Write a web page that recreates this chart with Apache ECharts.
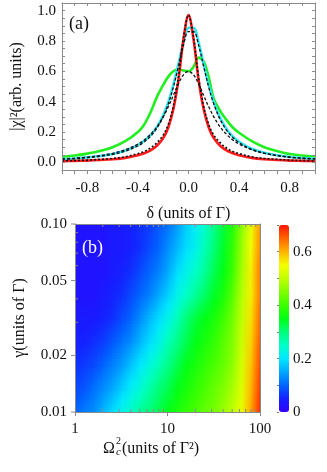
<!DOCTYPE html>
<html><head><meta charset="utf-8">
<script src="https://cdn.jsdelivr.net/npm/echarts@6/dist/echarts.min.js"></script>
<style>html,body{margin:0;padding:0;background:#fff}#c{width:327px;height:472px}</style>
</head><body><div id="c"></div>
<script>
// ---------- panel (a) data ----------
const delta = [-1,-0.9,-0.8,-0.7,-0.6,-0.5,-0.4,-0.35,-0.3,-0.25,-0.2,-0.16,-0.12,-0.08,-0.04,0,0.04,0.08,0.12,0.16,0.2,0.25,0.3,0.35,0.4,0.5,0.6,0.7,0.8,0.9,1];
const redCurve   = [0.008,0.010,0.012,0.016,0.021,0.030,0.047,0.060,0.080,0.110,0.160,0.230,0.350,0.540,0.810,0.970,0.810,0.540,0.350,0.230,0.160,0.110,0.080,0.060,0.047,0.030,0.021,0.016,0.012,0.010,0.008];
const cyanCurve  = [0.022,0.026,0.033,0.042,0.056,0.078,0.114,0.142,0.180,0.234,0.311,0.397,0.510,0.647,0.789,0.886,0.886,0.789,0.647,0.510,0.397,0.293,0.222,0.171,0.136,0.090,0.064,0.047,0.036,0.029,0.023];
const greenCurve = [0.037,0.045,0.058,0.075,0.100,0.140,0.200,0.250,0.330,0.430,0.510,0.565,0.600,0.615,0.605,0.600,0.630,0.690,0.665,0.560,0.420,0.340,0.280,0.230,0.195,0.140,0.100,0.075,0.055,0.045,0.037];
const dotRed     = [0.010,0.012,0.015,0.020,0.026,0.037,0.058,0.072,0.095,0.130,0.180,0.250,0.370,0.560,0.820,0.970,0.820,0.560,0.370,0.250,0.180,0.130,0.095,0.072,0.058,0.037,0.026,0.020,0.015,0.012,0.010];
const dashCyan   = [0.020,0.025,0.031,0.040,0.053,0.074,0.108,0.135,0.172,0.225,0.300,0.385,0.495,0.632,0.772,0.862,0.862,0.772,0.632,0.495,0.385,0.283,0.213,0.164,0.130,0.086,0.061,0.045,0.034,0.027,0.022];
const dashLow    = [0.023,0.028,0.035,0.045,0.060,0.083,0.120,0.148,0.185,0.234,0.300,0.366,0.441,0.517,0.577,0.600,0.577,0.517,0.441,0.366,0.300,0.234,0.185,0.148,0.120,0.083,0.060,0.045,0.035,0.028,0.023];

// ---------- panel (b) data ----------
const omegaSq = [1,1.26,1.58,2,2.51,3.16,3.98,5.01,6.31,7.94,10,12.6,15.8,20,25.1,31.6,39.8,50.1,63.1,79.4,100];
const gammaVals = [0.01,0.0133,0.0178,0.0237,0.0316,0.0422,0.0562,0.075,0.1];
const row0 = [0.10,0.12,0.13,0.16,0.19,0.22,0.25,0.28,0.30,0.32,0.35,0.37,0.39,0.41,0.43,0.44,0.47,0.50,0.54,0.61,0.69];
const row1 = [0.08,0.09,0.11,0.13,0.15,0.18,0.21,0.24,0.27,0.30,0.32,0.35,0.37,0.39,0.41,0.43,0.45,0.48,0.53,0.60,0.68];
const row2 = [0.06,0.07,0.08,0.10,0.12,0.14,0.17,0.20,0.23,0.26,0.29,0.32,0.35,0.37,0.39,0.41,0.43,0.46,0.52,0.59,0.67];
const row3 = [0.05,0.05,0.06,0.07,0.09,0.11,0.13,0.16,0.19,0.22,0.26,0.29,0.32,0.35,0.37,0.39,0.42,0.45,0.51,0.58,0.66];
const row4 = [0.04,0.04,0.04,0.05,0.06,0.08,0.10,0.13,0.16,0.19,0.22,0.26,0.30,0.33,0.35,0.37,0.40,0.44,0.50,0.57,0.65];
const row5 = [0.03,0.03,0.03,0.04,0.05,0.06,0.08,0.10,0.12,0.15,0.18,0.22,0.25,0.28,0.31,0.34,0.37,0.42,0.49,0.56,0.64];
const row6 = [0.03,0.03,0.03,0.03,0.04,0.05,0.06,0.08,0.10,0.12,0.15,0.19,0.22,0.25,0.28,0.32,0.35,0.40,0.48,0.56,0.64];
const row7 = [0.03,0.03,0.03,0.03,0.04,0.04,0.05,0.06,0.08,0.10,0.13,0.16,0.19,0.22,0.26,0.30,0.34,0.39,0.47,0.55,0.63];
const row8 = [0.03,0.03,0.03,0.03,0.04,0.04,0.05,0.06,0.07,0.09,0.11,0.14,0.18,0.21,0.25,0.29,0.33,0.38,0.46,0.54,0.62];
const chiMap = [row0,row1,row2,row3,row4,row5,row6,row7,row8];

const gammaTicks = [0.1,0.05,0.02,0.01];
const gammaTickLabels = ['0.10','0.05','0.02','0.01'];
const gammaMinorTicks = [0.03,0.04,0.06,0.07,0.08,0.09];
const omegaMinorTicks = [2,3,4,5,6,7,8,9,20,30,40,50,60,70,80,90];
const cbMin = 0, cbMax = 0.7;
const cbColors = ['#3300ff','#1420ff','#0064ff','#00a8ff','#00e8ff','#00ffc8','#00ff78','#00ff14','#3cff00','#80ff00','#c0ff00','#f4ff00','#ffb400','#ff6400','#ff1400'];

// ---------- helpers ----------
const F = 'Liberation Serif';
const TXT = '#111';
const AX = '#8a8a8a';
const isMult = (v, m) => Math.abs(v / m - Math.round(v / m)) < 1e-6;
const rgbStops = cbColors.map(h => [parseInt(h.substr(1,2),16), parseInt(h.substr(3,2),16), parseInt(h.substr(5,2),16)]);
function colorAt(v) {
  const n = rgbStops.length - 1;
  let t = Math.max(0, Math.min(1, (v - cbMin) / (cbMax - cbMin))) * n;
  let i = Math.min(Math.floor(t), n - 1);
  const f = t - i, a = rgbStops[i], b = rgbStops[i + 1];
  return 'rgb(' + [0,1,2].map(k => Math.round(a[k] + (b[k] - a[k]) * f)).join(',') + ')';
}
// one cell between neighbouring grid nodes, carrying its four corner values
const cells = [];
for (let j = 0; j < gammaVals.length - 1; j++) {
  for (let i = 0; i < omegaSq.length - 1; i++) {
    cells.push([omegaSq[i], omegaSq[i + 1], gammaVals[j], gammaVals[j + 1],
      chiMap[j][i], chiMap[j][i + 1], chiMap[j + 1][i], chiMap[j + 1][i + 1]]);
  }
}
const pair = arr => delta.map((d, i) => [d, arr[i]]);
function lineSeries(arr, color, width, type) {
  return { type: 'line', xAxisIndex: 0, yAxisIndex: 0, data: pair(arr), smooth: 0.35, showSymbol: false,
    symbol: 'none', silent: true, clip: true,
    lineStyle: { color: color, width: width, type: type || 'solid' } };
}
const SLICES = 8;

const chart = echarts.init(document.getElementById('c'), null, { renderer: 'canvas' });
const axLine = { show: true, lineStyle: { color: AX, width: 1 } };
const option = {
  animation: false,
  backgroundColor: '#fff',
  textStyle: { fontFamily: F },
  grid: [
    { left: 62, right: 12, top: 3, height: 167 },
    { left: 75, right: 67, top: 224, height: 188 },
    { left: 279, top: 225, width: 10, height: 187 }
  ],
  xAxis: [
    { type: 'value', gridIndex: 0, min: -1, max: 1, interval: 0.1, position: 'bottom', z: 5,
      axisLine: Object.assign({ onZero: false }, axLine),
      axisTick: { show: true, inside: false, length: 4, lineStyle: { color: AX } },
      axisLabel: { interval: 0, margin: 11, color: TXT, fontFamily: F, fontSize: 15,
        formatter: v => (isMult(v, 0.4) && Math.abs(v) < 0.99) ? (Math.abs(v) < 1e-9 ? '0.0' : v.toFixed(1)) : '' },
      splitLine: { show: false },
      name: 'δ (units of Γ)', nameLocation: 'middle', nameGap: 36,
      nameTextStyle: { color: TXT, fontFamily: F, fontSize: 16 } },
    { type: 'value', gridIndex: 0, min: -1, max: 1, interval: 0.1, position: 'top', z: 5,
      axisLine: Object.assign({ onZero: false }, axLine),
      axisTick: { show: true, inside: true, length: 3, lineStyle: { color: AX } },
      axisLabel: { show: false }, splitLine: { show: false } },
    { type: 'log', gridIndex: 1, min: 1, max: 100, logBase: 10, position: 'bottom', z: 5,
      axisLine: Object.assign({ onZero: false }, axLine),
      axisTick: { show: true, inside: false, length: 4, lineStyle: { color: AX } },
      axisLabel: { margin: 10, color: TXT, fontFamily: F, fontSize: 15, formatter: v => String(Math.round(v)) },
      splitLine: { show: false } },
    { type: 'value', gridIndex: 2, show: false, min: 0, max: 1 },
    { type: 'log', gridIndex: 1, min: 1, max: 100, position: 'top', z: 5,
      axisLine: Object.assign({ onZero: false }, axLine),
      axisTick: { show: false }, axisLabel: { show: false }, splitLine: { show: false } }
  ],
  yAxis: [
    { type: 'value', gridIndex: 0, min: -0.05, max: 1.05, interval: 0.05, position: 'left', z: 5,
      axisLine: Object.assign({ onZero: false }, axLine),
      axisTick: { show: true, inside: true, length: 3, lineStyle: { color: AX } },
      axisLabel: { interval: 0, margin: 6, color: TXT, fontFamily: F, fontSize: 15,
        formatter: v => (isMult(v, 0.2) && v > -0.01) ? (Math.abs(v) < 1e-9 ? '0.0' : v.toFixed(1)) : '' },
      splitLine: { show: false },
      name: '|χ|²(arb. units)', nameLocation: 'middle', nameGap: 37, nameRotate: 90,
      nameTextStyle: { color: TXT, fontFamily: F, fontSize: 16 } },
    { type: 'value', gridIndex: 0, min: -0.05, max: 1.05, interval: 0.05, position: 'right', z: 5,
      axisLine: Object.assign({ onZero: false }, axLine),
      axisTick: { show: true, inside: true, length: 3, lineStyle: { color: AX } },
      axisLabel: { show: false }, splitLine: { show: false } },
    { type: 'log', gridIndex: 1, min: 0.01, max: 0.1, logBase: 10, position: 'left', z: 5,
      axisLine: Object.assign({ onZero: false }, axLine),
      axisTick: { show: false }, axisLabel: { show: false }, splitLine: { show: false },
      name: 'γ(units of Γ)', nameLocation: 'middle', nameGap: 47, nameRotate: 90,
      nameTextStyle: { color: TXT, fontFamily: F, fontSize: 16 } },
    { type: 'value', gridIndex: 2, min: 0, max: 0.7, interval: 0.1, position: 'right',
      axisLine: { show: false },
      axisTick: { show: true, inside: true, length: 2, lineStyle: { color: '#777' } },
      axisLabel: { interval: 0, margin: 4, color: TXT, fontFamily: F, fontSize: 15,
        formatter: v => isMult(v, 0.2) ? (Math.abs(v) < 1e-9 ? '0' : v.toFixed(1)) : '' },
      splitLine: { show: false } },
    { type: 'log', gridIndex: 1, min: 0.01, max: 0.1, position: 'right', z: 5,
      axisLine: Object.assign({ onZero: false }, axLine),
      axisTick: { show: false }, axisLabel: { show: false }, splitLine: { show: false } }
  ],
  visualMap: {
    type: 'continuous', seriesIndex: 6, dimension: 4, min: cbMin, max: cbMax,
    calculable: false, hoverLink: false, orient: 'vertical',
    left: 279, top: 225, itemWidth: 10, itemHeight: 187, padding: 0,
    inRange: { color: cbColors }, textStyle: { color: TXT }
  },
  series: [
    lineSeries(greenCurve, '#22ee22', 2.6),
    lineSeries(cyanCurve, '#30e6f5', 2.6),
    lineSeries(redCurve, '#ff1a1a', 2.6),
    lineSeries(dashLow, '#111', 1.3, [3, 2]),
    lineSeries(dashCyan, '#111', 1.3, [3, 2]),
    lineSeries(dotRed, '#111', 1.6, [2, 2]),
    {
      type: 'custom', xAxisIndex: 2, yAxisIndex: 2, data: cells, clip: true, silent: true,
      encode: { x: [0, 1], y: [2, 3] },
      renderItem: function (params, api) {
        const p0 = api.coord([api.value(0), api.value(3)]); // top-left
        const p1 = api.coord([api.value(1), api.value(2)]); // bottom-right
        const bl = api.value(4), br = api.value(5), tl = api.value(6), tr = api.value(7);
        const w = p1[0] - p0[0], h = p1[1] - p0[1];
        const kids = [];
        for (let s = 0; s < SLICES; s++) {
          const tm = 1 - (s + 0.5) / SLICES; // 1 at top, 0 at bottom
          const vL = bl + (tl - bl) * tm, vR = br + (tr - br) * tm;
          kids.push({
            type: 'rect',
            shape: { x: p0[0], y: p0[1] + h * s / SLICES, width: w + 0.8, height: h / SLICES + 0.8 },
            style: { fill: new echarts.graphic.LinearGradient(0, 0, 1, 0, [
              { offset: 0, color: colorAt(vL) }, { offset: 1, color: colorAt(vR) }]) }
          });
        }
        return { type: 'group', children: kids };
      }
    }
  ]
};
chart.setOption(option);

// ---------- decorations placed through the axes' own scales ----------
const gfx = [];
const xL = chart.convertToPixel({ xAxisIndex: 2 }, 1);
const yB = chart.convertToPixel({ yAxisIndex: 2 }, 0.01);
const yT = chart.convertToPixel({ yAxisIndex: 2 }, 0.1);
gammaTicks.forEach((v, k) => {
  const y = chart.convertToPixel({ yAxisIndex: 2 }, v);
  gfx.push({ type: 'line', z: 10, shape: { x1: xL - 4, y1: y, x2: xL, y2: y }, style: { stroke: AX, lineWidth: 1 } });
  gfx.push({ type: 'text', z: 10, x: xL - 8, y: y, style: { text: gammaTickLabels[k], font: '15px ' + F, fill: TXT, align: 'right', verticalAlign: 'middle', textAlign: 'right', textVerticalAlign: 'middle' } });
});
gammaMinorTicks.forEach(v => {
  const y = chart.convertToPixel({ yAxisIndex: 2 }, v);
  gfx.push({ type: 'line', z: 10, shape: { x1: xL, y1: y, x2: xL + 3, y2: y }, style: { stroke: AX, lineWidth: 1 } });
});
omegaMinorTicks.forEach(v => {
  const x = chart.convertToPixel({ xAxisIndex: 2 }, v);
  gfx.push({ type: 'line', z: 10, shape: { x1: x, y1: yB, x2: x, y2: yB - 3 }, style: { stroke: AX, lineWidth: 1 } });
  gfx.push({ type: 'line', z: 10, shape: { x1: x, y1: yT, x2: x, y2: yT + 3 }, style: { stroke: AX, lineWidth: 1 } });
});
// panel labels
gfx.push({ type: 'text', z: 10, x: 69, y: 24, style: { text: '(a)', font: '18px ' + F, fill: TXT, verticalAlign: 'middle', textVerticalAlign: 'middle' } });
gfx.push({ type: 'text', z: 10, x: 82, y: 248, style: { text: '(b)', font: '18px ' + F, fill: '#fff', verticalAlign: 'middle', textVerticalAlign: 'middle' } });
// x-axis name of panel (b): Omega with stacked superscript 2 and subscript c
const nameY = 449;
gfx.push({ type: 'text', z: 10, x: 103, y: nameY, style: { text: 'Ω', font: '16px ' + F, fill: TXT, verticalAlign: 'middle', textVerticalAlign: 'middle' } });
gfx.push({ type: 'text', z: 10, x: 116, y: nameY - 8, style: { text: '2', font: '10px ' + F, fill: TXT, verticalAlign: 'middle', textVerticalAlign: 'middle' } });
gfx.push({ type: 'text', z: 10, x: 116, y: nameY + 3, style: { text: 'c', font: 'italic 11px ' + F, fill: TXT, verticalAlign: 'middle', textVerticalAlign: 'middle' } });
gfx.push({ type: 'text', z: 10, x: 122, y: nameY, style: { text: '(units of Γ²)', font: '16px ' + F, fill: TXT, verticalAlign: 'middle', textVerticalAlign: 'middle' } });
chart.setOption({ graphic: gfx });
</script>
</body></html>
